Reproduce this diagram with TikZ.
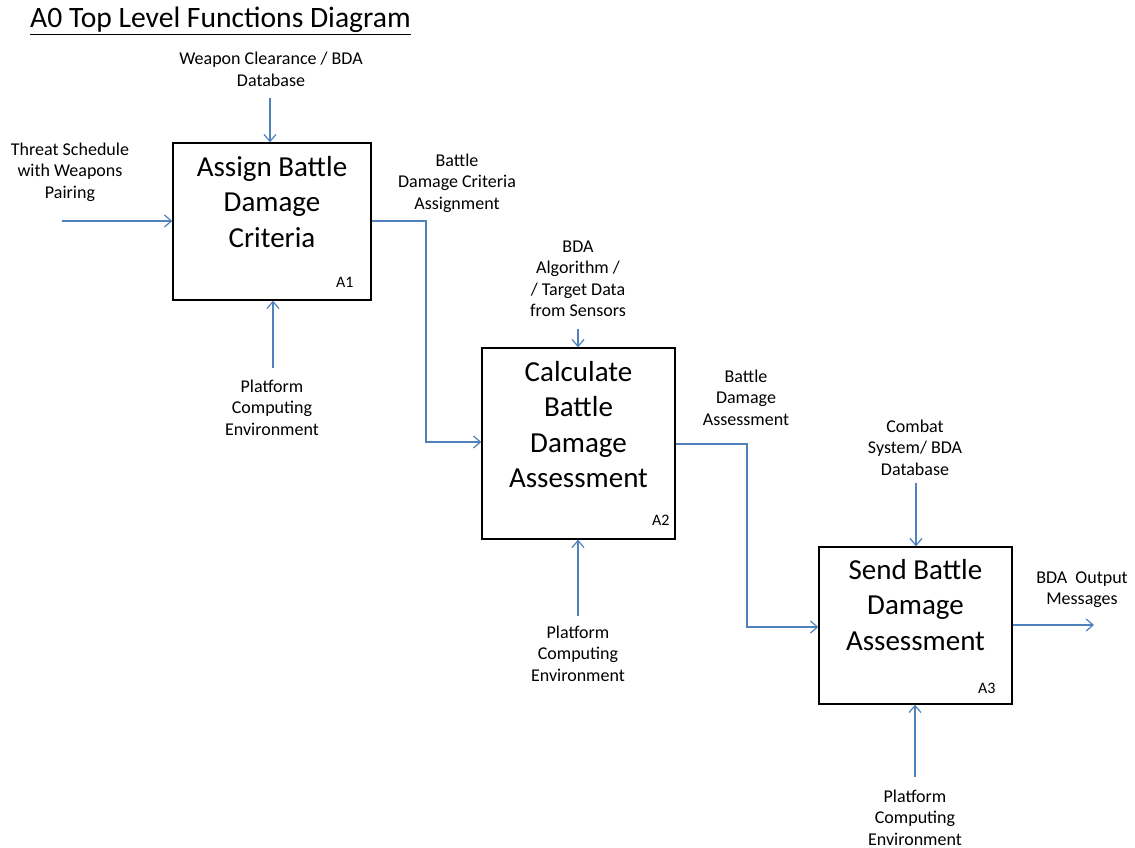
\documentclass[tikz,border=0pt]{standalone}
\usepackage{fontspec}
\setmainfont{Carlito}
\usetikzlibrary{arrows.meta,calc}
\definecolor{arrblue}{HTML}{4F81BD}
\begin{document}
\begin{tikzpicture}[x=1pt,y=-1pt,
  funcbox/.style={draw=black,line width=1.3pt,rectangle,inner sep=0pt},
  functext/.style={font=\fontsize{29}{35.5}\selectfont,align=center,inner sep=0pt,anchor=base},
  boxid/.style={font=\fontsize{16}{19}\selectfont,inner sep=0pt,anchor=base east},
  lbl/.style={font=\fontsize{18}{21.5}\selectfont,align=center,inner sep=0pt,anchor=base},
  arr/.style={draw=arrblue,line width=1.4pt,-{Straight Barb[length=7pt,width=12pt,line width=1.2pt]}}]
\useasboundingbox (0,0) rectangle (1135,848);
\fill[white] (0,0) rectangle (1135,848);

% title
\node[font=\fontsize{29.6}{34}\selectfont,inner sep=0pt,anchor=base west] (title) at (30,28) {\underline{A0 Top Level Functions Diagram}};

% boxes
\node[funcbox,minimum width=198pt,minimum height=157pt] (a1) at (272,221.5) {};
\node[funcbox,minimum width=193pt,minimum height=191pt] (a2) at (578.5,443.5) {};
\node[funcbox,minimum width=193pt,minimum height=157pt] (a3) at (915.5,625.5) {};

% box texts (anchor = baseline of last line)
\node[functext] (t1) at ($(a1.north)+(0,105)$) {Assign Battle\\Damage\\Criteria};
\node[functext] (t2) at ($(a2.north)+(0,140.5)$) {Calculate\\Battle\\Damage\\Assessment};
\node[functext] (t3) at ($(a3.north)+(0,104)$) {Send Battle\\Damage\\Assessment};

\node[boxid] (id1) at ($(a1.south east)+(-18,-13)$) {A1};
\node[boxid] (id2) at ($(a2.south east)+(-6,-14)$) {A2};
\node[boxid] (id3) at ($(a3.south east)+(-17,-11)$) {A3};

% labels (anchor = baseline of last line)
\node[lbl] (l1) at (271,86.5) {Weapon Clearance / BDA\\Database};
\node[lbl] (l2) at (70,198) {Threat Schedule\\with Weapons\\Pairing};
\node[lbl] (l3) at (457,209) {Battle\\Damage Criteria\\Assignment};
\node[lbl] (l4) at (272,435) {Platform\\Computing\\Environment};
\node[lbl] (l5) at (578,316.5) {BDA\\Algorithm /\\/ Target Data\\from Sensors};
\node[lbl] (l6) at (746,425) {Battle\\Damage\\Assessment};
\node[lbl] (l7) at (578,681) {Platform\\Computing\\Environment};
\node[lbl] (l8) at (915,475) {Combat\\System/ BDA\\Database};
\node[lbl] (l9) at (1082,604.5) {BDA\ \ Output\\Messages};
\node[lbl] (l10) at (915,845) {Platform\\Computing\\Environment};

% free ends
\coordinate (c1) at (270,98);
\coordinate (i1) at (62,221);
\coordinate (m1) at (273,368);
\coordinate (o1) at (426,221);
\coordinate (o1b) at (426,442);
\coordinate (c2) at (578,329);
\coordinate (m2) at (578,616);
\coordinate (o2) at (747,444);
\coordinate (o2b) at (747,627);
\coordinate (c3) at (916,483);
\coordinate (m3) at (915,777);
\coordinate (o3) at (1094,625);

% arrows
\draw[arr] (c1) -- (c1 |- a1.north);
\draw[arr] (i1) -- (i1 -| a1.west);
\draw[arr] (m1) -- (m1 |- a1.south);
\draw[arr] (o1 -| a1.east) -- (o1) -- (o1b) -- (o1b -| a2.west);
\draw[arr] (c2) -- (c2 |- a2.north);
\draw[arr] (m2) -- (m2 |- a2.south);
\draw[arr] (o2 -| a2.east) -- (o2) -- (o2b) -- (o2b -| a3.west);
\draw[arr] (c3) -- (c3 |- a3.north);
\draw[arr] (m3) -- (m3 |- a3.south);
\draw[arr] (o3 -| a3.east) -- (o3);
\end{tikzpicture}
\end{document}
